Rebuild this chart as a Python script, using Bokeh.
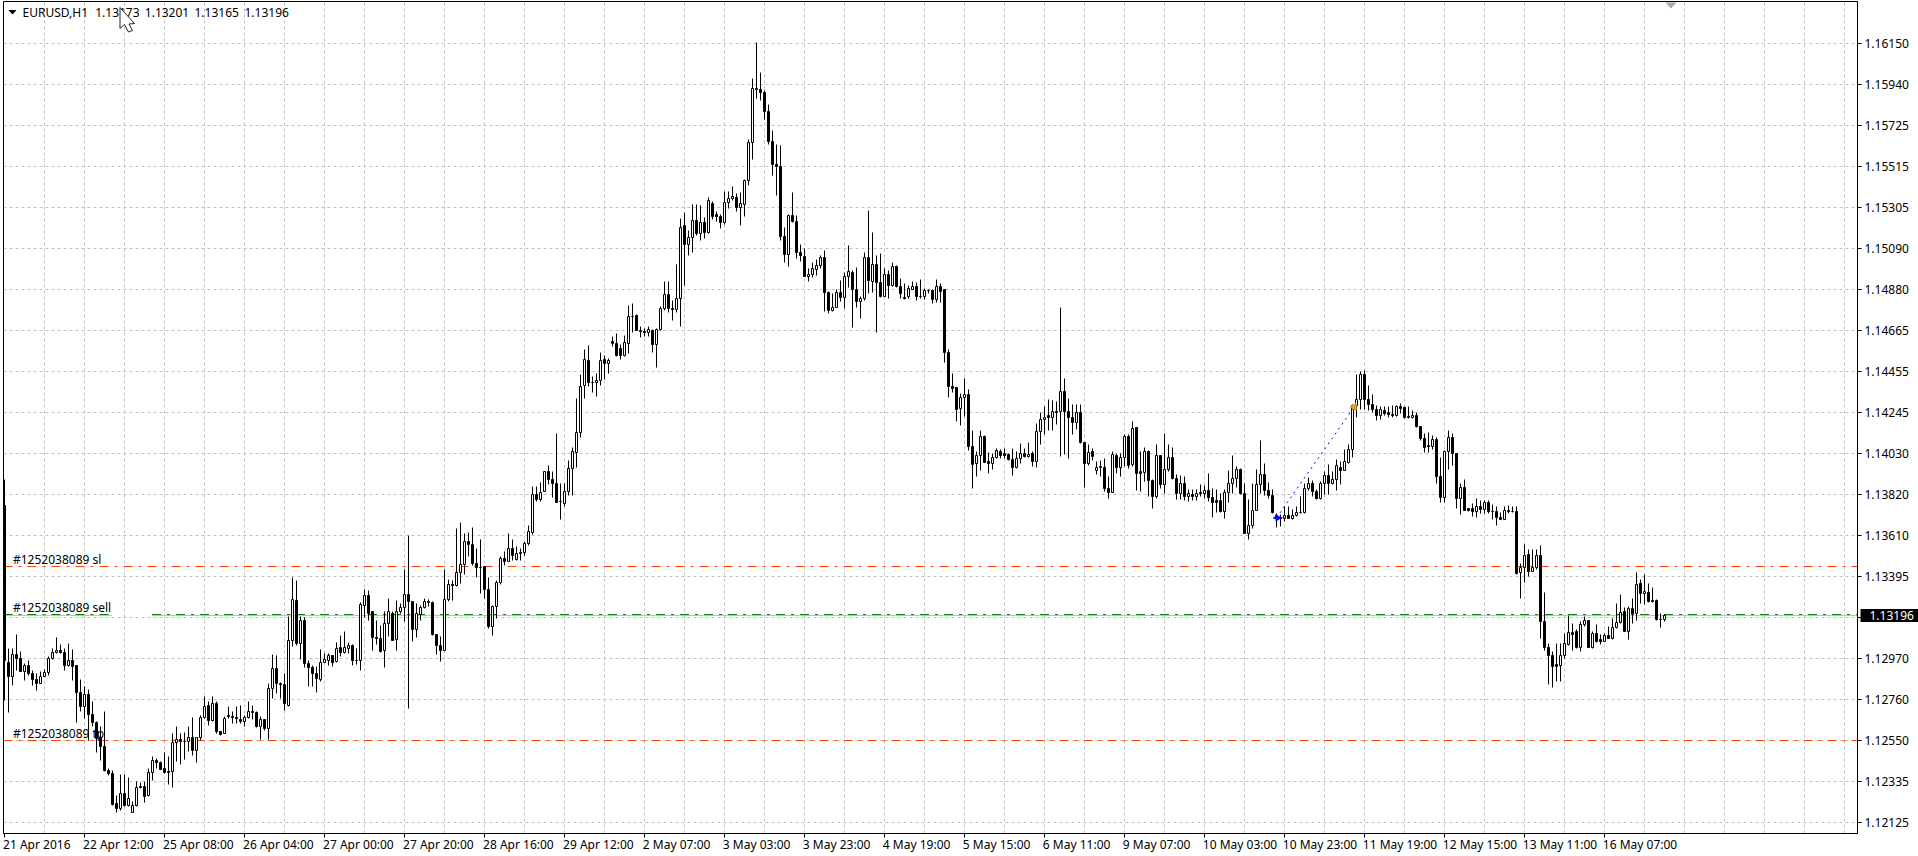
from bokeh.plotting import figure
from bokeh.embed import file_html
from bokeh.resources import INLINE
from bokeh.models import (ColumnDataSource, FixedTicker, Label, LinearAxis, PolyAnnotation, Range1d)

# Prices in 1e-5 above 1.0 (13196 = 1.13196), one entry per hourly candle
high_pts = [
13899,13024,13024,13096,13010,12946,12964,12912,12895,12903,
12915,12984,13024,13081,13046,13024,13050,13020,12938,12864,
12826,12812,12748,12645,12619,12700,12404,12395,12266,12373,
12373,12357,12232,12335,12330,12335,12404,12464,12456,12438,
12485,12464,12585,12623,12585,12588,12619,12667,12564,12679,
12774,12748,12778,12748,12597,12671,12723,12697,12723,12728,
12679,12748,12728,12697,12671,12657,12843,12993,12990,12846,
12895,13191,13391,13377,13187,13184,12964,12938,12929,13019,
12998,12998,12990,13055,13093,13110,13057,13046,13024,13260,
13329,13325,13215,13170,13144,13213,13282,13213,13274,13256,
13434,13609,13268,13256,13248,13282,13277,13267,13098,13084,
13434,13380,13377,13644,13675,13618,13621,13648,13540,13586,
13448,13393,13247,13376,13497,13526,13617,13588,13550,13541,
13576,13662,13863,13863,13884,13941,13972,13941,14135,13877,
13874,13994,14063,14316,14442,14571,14590,14428,14445,14554,
14540,14523,14638,14652,14597,14643,14798,14807,14750,14687,
14678,14687,14673,14678,14790,14922,14922,14824,15010,15246,
15277,15186,15320,15320,15315,15252,15356,15333,15281,15269,
15385,15385,15411,15373,15378,15445,15652,15967,16153,16000,
15907,15834,15700,15626,15622,15197,15269,15378,15259,15114,
15089,14990,15016,15035,15054,15080,14870,14856,14877,14925,
14968,15106,14977,14992,14842,15068,15287,15173,15054,15063,
14985,14977,15020,15003,14937,14908,14899,14920,14916,14930,
14882,14877,14877,14930,14908,14877,14571,14447,14375,14344,
14418,14361,14149,14042,14149,14125,14039,14034,14056,14054,
14056,14034,14059,14042,14082,14059,14090,14042,14189,14245,
14275,14313,14306,14301,14788,14418,14318,14287,14283,14283,
14090,14077,14056,13991,13994,14004,13913,14042,14034,14034,
14128,14128,14197,14168,14042,14065,14047,13896,14077,14020,
14137,14077,14063,13922,13917,13913,13844,13848,13844,13870,
13867,13927,13849,13844,13827,13848,13942,14020,13965,13956,
13874,13793,13875,13948,14097,13979,13882,13844,13724,13718,
13758,13758,13741,13758,13810,13879,13910,13891,13844,13887,
13939,13973,13939,13999,13991,14051,14077,14283,14438,14454,
14463,14385,14334,14282,14273,14277,14273,14282,14282,14290,
14273,14273,14256,14244,14173,14136,14139,14127,14115,14012,
14049,14148,14136,14032,13877,13898,13748,13774,13800,13791,
13791,13791,13770,13760,13727,13757,13765,13760,13760,13461,
13562,13533,13533,13538,13555,13314,13051,13011,13051,13051,
13102,13192,13154,13123,13163,13188,13171,13111,13149,13094,
13102,13137,13180,13257,13304,13237,13240,13283,13417,13383,
13404,13361,13340,13278,13206,13201]
low_pts = [
12757,12692,12834,12912,12903,12857,12886,12834,12809,12843,
12878,12886,12969,12998,12998,12912,12933,12860,12640,12697,
12662,12550,12619,12485,12447,12387,12370,12215,12175,12189,
12209,12206,12175,12206,12301,12227,12258,12340,12404,12401,
12378,12323,12304,12438,12426,12450,12490,12473,12433,12550,
12662,12628,12645,12585,12576,12585,12662,12636,12636,12636,
12619,12662,12657,12616,12556,12602,12556,12766,12791,12766,
12702,12726,13032,13041,12967,12924,12829,12826,12797,12852,
12950,12938,12933,12950,12984,12998,12998,12938,12943,12909,
13184,13170,13012,13046,13005,12924,13084,13063,13012,13205,
13163,12714,13058,13081,13170,13231,13239,13091,12995,12955,
13012,13265,13274,13345,13360,13406,13497,13454,13393,13307,
13281,13126,13092,13178,13355,13454,13471,13479,13481,13481,
13507,13555,13615,13786,13782,13834,13869,13803,13777,13693,
13757,13817,13817,13960,14115,14316,14380,14349,14325,14385,
14414,14445,14583,14535,14519,14532,14549,14656,14666,14630,
14638,14635,14552,14475,14669,14773,14759,14717,14759,14687,
14902,15053,15070,15160,15131,15140,15166,15240,15232,15195,
15213,15295,15338,15281,15209,15257,15416,15550,15867,15855,
15757,15628,15467,15364,15132,15020,14999,15226,15040,15025,
14946,14922,14942,14951,14985,14767,14756,14767,14787,14818,
14782,14891,14684,14787,14727,14822,14856,14865,14655,14839,
14844,14830,14896,14891,14830,14825,14830,14877,14822,14834,
14825,14856,14808,14813,14813,14502,14321,14347,14197,14177,
14223,14046,13849,13913,13944,13985,13927,13951,14004,14004,
14008,13994,13918,13953,13982,14011,14013,13965,13960,14080,
14128,14149,14151,14183,14016,14028,14004,14128,14154,14082,
13858,13968,13994,13922,13913,13836,13801,13830,13927,13913,
13965,13956,13965,13839,13836,13887,13810,13746,13801,13853,
13824,13939,13896,13793,13793,13787,13784,13789,13789,13810,
13801,13784,13701,13729,13729,13694,13779,13827,13858,13818,
13617,13586,13646,13736,13827,13815,13801,13724,13650,13655,
13681,13694,13689,13706,13724,13724,13841,13810,13796,13793,
13818,13818,13870,13841,13870,13944,13982,14011,14220,14260,
14260,14256,14242,14204,14208,14230,14216,14216,14222,14239,
14213,14213,14213,14167,14101,14036,14036,14053,13874,13777,
13777,13951,13972,13745,13714,13735,13731,13708,13700,13722,
13722,13719,13688,13659,13688,13693,13722,13726,13404,13280,
13364,13395,13421,13430,13077,13013,12839,12822,12856,12856,
12973,13042,13016,13025,13011,13140,13028,13025,13054,13047,
13059,13077,13068,13128,13154,13111,13068,13151,13168,13257,
13249,13261,13262,13168,13132,13165]
open_pts = [
13761,12950,12878,12993,12972,12903,12936,12895,12864,12843,
12878,12898,12972,13003,13012,13005,12938,12964,12936,12795,
12723,12788,12683,12640,12564,12516,12395,12380,12222,12197,
12275,12211,12177,12211,12312,12309,12263,12383,12447,12437,
12404,12390,12388,12537,12554,12543,12543,12562,12495,12564,
12667,12728,12650,12740,12593,12585,12678,12673,12667,12657,
12645,12667,12698,12693,12619,12657,12611,12817,12921,12843,
12838,12730,13065,13272,13048,13169,12946,12926,12895,12866,
12952,12964,12988,12955,13029,13005,13024,13039,12960,12960,
13244,13299,13215,13081,13075,13012,13153,13205,13070,13213,
13236,13303,13265,13122,13200,13236,13267,13263,13094,13041,
13015,13277,13354,13349,13415,13458,13576,13559,13462,13445,
13448,13331,13140,13240,13364,13488,13476,13540,13485,13516,
13519,13567,13622,13820,13792,13834,13941,13898,13877,13784,
13774,13836,13955,14036,14141,14381,14513,14399,14396,14409,
14518,14495,14611,14599,14575,14537,14601,14740,14743,14666,
14661,14656,14668,14595,14673,14781,14854,14781,14774,14833,
15210,15112,15148,15236,15169,15225,15172,15323,15266,15254,
15223,15331,15347,15352,15304,15316,15440,15636,15920,15912,
15898,15800,15645,15526,15516,15154,15061,15259,15232,15068,
15052,14947,14959,14980,15001,15042,14865,14773,14787,14866,
14839,14946,14967,14880,14818,14835,15042,14922,15006,14913,
14844,14959,14901,14996,14896,14837,14842,14880,14897,14844,
14844,14873,14873,14829,14897,14877,14554,14378,14371,14263,
14319,14338,14068,13980,14023,14118,13989,13980,14013,14044,
14030,14028,13999,13960,14008,14034,14018,14030,13991,14147,
14209,14226,14218,14251,14247,14354,14251,14218,14192,14245,
14090,13980,14044,13944,13961,13961,13849,13830,14023,13960,
14013,14118,13973,14166,13937,13934,14044,13894,13810,14020,
13873,13951,14013,13901,13825,13879,13810,13822,13810,13832,
13827,13842,13805,13787,13787,13732,13832,13879,13904,13948,
13824,13620,13658,13739,13870,13922,13841,13815,13712,13699,
13696,13713,13698,13713,13729,13727,13853,13875,13836,13799,
13875,13920,13879,13896,13961,13944,13985,14054,14278,14309,
14442,14311,14287,14258,14230,14254,14246,14232,14229,14275,
14270,14225,14218,14229,14170,14108,14074,14070,14105,13912,
13803,14041,14113,14032,13798,13857,13746,13748,13731,13758,
13741,13777,13734,13731,13700,13693,13738,13734,13734,13417,
13440,13510,13421,13445,13505,13166,13028,12987,12939,12935,
12990,13047,13108,13114,13028,13149,13170,13028,13102,13068,
13059,13092,13075,13133,13159,13216,13111,13233,13206,13360,
13309,13314,13273,13273,13173,13173]
close_pts = [
12964,12878,12993,12972,12903,12936,12895,12864,12843,12878,
12898,12972,13003,13014,13002,12938,12964,12933,12795,12723,
12788,12683,12640,12559,12516,12392,12378,12220,12197,12275,
12211,12249,12211,12306,12304,12261,12383,12444,12437,12401,
12385,12385,12537,12554,12543,12541,12562,12495,12564,12667,
12723,12650,12740,12593,12581,12662,12673,12667,12661,12645,
12667,12698,12693,12619,12657,12611,12817,12921,12843,12838,
12740,13065,13277,13048,13169,12946,12926,12895,12869,12952,
12967,12988,12952,13024,13003,13029,13041,12960,12963,13253,
13299,13205,13081,13077,13010,13153,13215,13067,13213,13236,
13303,13265,13122,13205,13236,13267,13263,13094,13041,13015,
13277,13354,13349,13415,13458,13575,13559,13462,13445,13441,
13331,13140,13240,13364,13488,13476,13540,13505,13516,13518,
13567,13627,13820,13795,13831,13939,13898,13877,13779,13782,
13836,13955,14041,14141,14378,14518,14399,14396,14409,14513,
14495,14513,14599,14537,14537,14606,14740,14737,14666,14661,
14656,14671,14595,14673,14781,14854,14781,14774,14833,15200,
15112,15148,15236,15169,15225,15172,15337,15257,15257,15223,
15331,15347,15357,15304,15321,15440,15636,15920,15912,15898,
15800,15645,15526,15516,15154,15061,15259,15232,15068,15056,
14947,14959,14985,15001,15042,14865,14773,14787,14866,14839,
14946,14970,14880,14818,14835,15042,14928,15006,14913,14844,
14959,14901,14996,14896,14856,14834,14882,14897,14844,14841,
14873,14875,14829,14892,14870,14554,14378,14366,14257,14319,
14338,14068,13975,14023,14118,13985,13980,14013,14049,14022,
14022,13999,13960,14008,14034,14016,14028,13991,14147,14209,
14220,14218,14251,14244,14354,14251,14218,14192,14245,14090,
13982,14039,14016,13961,13963,13849,13830,14028,13960,14013,
14118,13970,14163,13929,13929,14044,13892,13808,14020,13870,
13951,14013,13901,13825,13879,13810,13827,13810,13827,13825,
13842,13805,13779,13779,13732,13832,13879,13904,13948,13824,
13620,13658,13739,13870,13922,13841,13815,13729,13694,13696,
13713,13698,13712,13729,13727,13853,13879,13836,13799,13875,
13920,13875,13896,13968,13944,13991,14054,14278,14313,14442,
14311,14287,14258,14227,14260,14237,14232,14229,14275,14263,
14216,14218,14229,14170,14108,14061,14067,14105,13912,13803,
14041,14113,14032,13798,13857,13739,13739,13731,13758,13741,
13777,13734,13731,13700,13693,13738,13731,13731,13409,13440,
13505,13421,13445,13505,13166,13028,12987,12930,12930,12990,
13051,13108,13094,13028,13149,13170,13028,13102,13058,13059,
13092,13077,13133,13159,13211,13111,13233,13206,13355,13309,
13319,13266,13266,13175,13172,13196]

x_tick_labels = ["21 Apr 2016","22 Apr 12:00","25 Apr 08:00","26 Apr 04:00","27 Apr 00:00","27 Apr 20:00",
                 "28 Apr 16:00","29 Apr 12:00","2 May 07:00","3 May 03:00","3 May 23:00","4 May 19:00",
                 "5 May 15:00","6 May 11:00","9 May 07:00","10 May 03:00","10 May 23:00","11 May 19:00",
                 "12 May 15:00","13 May 11:00","16 May 07:00"]
y_tick_labels = ["1.16150","1.15940","1.15725","1.15515","1.15305","1.15090","1.14880","1.14665","1.14455","1.14245",
                 "1.14030","1.13820","1.13610","1.13395","","1.12970","1.12760","1.12550","1.12335","1.12125"]

header_texts = ["EURUSD,H1", "1.13173", "1.13201", "1.13165", "1.13196"]
bid_price = 1.13196
sl_price = 1.13447
sell_price = 1.13201
tp_price = 1.12550
sell_gap = (26.9, 36.9)
entry_index, entry_price = 318, 1.13699
exit_index, exit_price = 337.4, 1.14272

W, H = 1918, 856
FL, FT, FR, FB = 3, 1, 1857, 833      # frame edges in page pixels
PX_PER_BAR = 4.0
TOP_TICK, BOT_TICK, N_TICK = 1.16150, 1.12125, 19
P_PER_PX = (TOP_TICK - BOT_TICK) / 779.0
C_Y0, C_X0 = 43, 4                    # drawing coordinate of the first y tick and the first candle
x_start = -(C_X0 - FL) / PX_PER_BAR
x_end = x_start + (FR - FL) / PX_PER_BAR
y_end = TOP_TICK + (C_Y0 - FT) * P_PER_PX
y_start = TOP_TICK - (FB - C_Y0) * P_PER_PX

def snap(v):
    """Keep a price on a whole row of the 1-pixel price grid of the chart."""
    return TOP_TICK - round((TOP_TICK - v) / P_PER_PX) * P_PER_PX

n = len(close_pts)
idx = list(range(n))
to_price = lambda a: [1 + v / 1e5 for v in a]
highs, lows, opens, closes = map(to_price, (high_pts, low_pts, open_pts, close_pts))
src = ColumnDataSource(dict(
    x=idx, h=[snap(v) for v in highs], l=[snap(v) for v in lows],
    top=[snap(max(a, b)) for a, b in zip(opens, closes)],
    bot=[snap(min(a, b)) for a, b in zip(opens, closes)],
    fill=["white" if c > o else "black" for o, c in zip(opens, closes)],
))

p = figure(width=W, height=H, output_backend="svg", toolbar_location=None,
           x_range=Range1d(x_start, x_end), y_range=Range1d(y_start, y_end),
           x_axis_location="below", y_axis_location="right",
           min_border_left=FL, min_border_right=W - FR, min_border_top=FT, min_border_bottom=H - FB,
           background_fill_color="white", border_fill_color="white",
           outline_line_color="black", outline_line_width=1,
           styles={"position": "absolute", "left": "0", "top": "0"})

FONT = "Noto Sans"
FS = "12px"

# x axes: the first carries the tick marks, the second the texts that start at the ticks
x_ticks = [20 * k for k in range(len(x_tick_labels))]
p.xaxis.ticker = FixedTicker(ticks=x_ticks)
p.xaxis.major_label_overrides = {t: "" for t in x_ticks}
p.xaxis.major_label_standoff = 0
p.xaxis.major_tick_out = 4
p.xaxis.major_tick_in = 0
p.xaxis.minor_tick_line_color = None
p.xaxis.axis_line_color = "black"
p.xaxis.major_tick_line_color = "black"

CHAR_W = {" ": 3.12, ":": 3.2, "A": 7.8, "p": 7.4, "r": 5.0, "M": 10.8, "a": 6.7, "y": 6.0}
def text_width(s):
    return sum(CHAR_W.get(c, 6.86) for c in s)
shifted = [t + (text_width(s) / 2 - 1.5) / PX_PER_BAR for t, s in zip(x_ticks, x_tick_labels)]
text_axis = LinearAxis(ticker=FixedTicker(ticks=shifted), major_label_overrides=dict(zip(shifted, x_tick_labels)),
                       major_tick_line_color=None, minor_tick_line_color=None, axis_line_color=None,
                       major_tick_out=0, major_tick_in=0, major_label_standoff=-2,
                       major_label_text_font=FONT, major_label_text_font_size=FS, major_label_text_color="black")
p.add_layout(text_axis, "below")

y_ticks = [TOP_TICK - k * 41 * P_PER_PX for k in range(N_TICK + 1)]
p.yaxis.ticker = FixedTicker(ticks=y_ticks)
p.yaxis.major_label_overrides = dict(zip(y_ticks, y_tick_labels))
p.yaxis.major_tick_out = 4
p.yaxis.major_tick_in = 0
p.yaxis.minor_tick_line_color = None
p.yaxis.axis_line_color = "black"
p.yaxis.major_tick_line_color = "black"
p.yaxis.major_label_standoff = 3
p.yaxis.major_label_text_font = FONT
p.yaxis.major_label_text_font_size = FS
p.yaxis.major_label_text_color = "black"

# current price: a second price axis whose single thick tick is the black box
bid_axis = LinearAxis(ticker=FixedTicker(ticks=[snap(bid_price)]),
                      major_label_overrides={snap(bid_price): "1.13196"},
                      axis_line_color=None, minor_tick_line_color=None,
                      major_tick_line_color="black", major_tick_line_width=13,
                      major_tick_in=51, major_tick_out=7, major_label_standoff=-49,
                      major_label_text_font=FONT, major_label_text_font_size=FS, major_label_text_color="white")
p.add_layout(bid_axis, "right")

# grid
p.xgrid[0].ticker = FixedTicker(ticks=list(range(10, 470, 10)))
p.ygrid[0].ticker = FixedTicker(ticks=y_ticks)
for g in (p.xgrid[0], p.ygrid[0]):
    g.grid_line_color = "#C0C0C0"
    g.grid_line_dash = "3 3"
    g.grid_line_width = 1

def scr_label(x_px, y_px, text, color="black", level="overlay", **kw):
    p.add_layout(Label(x=x_px - FL, y=FB - y_px, x_units="screen", y_units="screen", text=text,
                       text_font=FONT, text_font_size=FS, text_color=color, text_align="left",
                       text_baseline="middle", level=level, **kw))

def poly(pts, fill, line=None):
    p.add_layout(PolyAnnotation(xs=[a - FL for a, _ in pts], ys=[FB - b for _, b in pts],
                                xs_units="screen", ys_units="screen", line_alpha=1,
                                fill_color=fill, fill_alpha=1, line_color=line, level="overlay"))

# order labels (under the candles)
scr_label(12.5, 559, "#1252038089 sl", level="underlay")
scr_label(12.5, 607, "#1252038089 sell", level="underlay")
scr_label(12.5, 733, "#1252038089 tp", level="underlay")

# order / bid lines
bid_y, sell_y, sl_y, tp_y = snap(bid_price), snap(sell_price), snap(sl_price), snap(tp_price)
p.multi_line([[x_start, sell_gap[0]], [sell_gap[1], x_end]], [[bid_y] * 2, [bid_y] * 2],
             line_color="#C0C0C0", line_width=1)
p.multi_line([[x_start, sell_gap[0]], [sell_gap[1], x_end]], [[sell_y] * 2, [sell_y] * 2],
             line_color="#008000", line_width=1, line_dash="9 6 3 6")
p.line([x_start, x_end], [sl_y, sl_y], line_color="#FF4500", line_width=1, line_dash="9 6 3 6")
p.line([x_start, x_end], [tp_y, tp_y], line_color="#FF4500", line_width=1, line_dash="9 6 3 6")

# candles
p.segment(x0="x", x1="x", y0="l", y1="h", source=src, line_color="black", line_width=1)
p.vbar(x="x", width=0.5, top="top", bottom="bot", source=src, fill_color="fill", line_color="black", line_width=1)

# closed trade
p.line([entry_index, exit_index], [entry_price, exit_price], line_color="#0000FF", line_width=1, line_dash="2 4")
p.line([entry_index + 0.5, entry_index + 2.2], [entry_price, entry_price], line_color="#FF0000", line_width=1)
p.line([entry_index - 0.8, entry_index + 0.4], [entry_price, entry_price], line_color="#0000FF", line_width=2)
p.scatter([entry_index + 0.3], [entry_price], marker="triangle", angle=-1.5708, size=6, color="#0000FF")
p.scatter([exit_index], [exit_price], marker="triangle", angle=1.5708, size=7, color="#DAA520")

# header
for tx, txt in zip([22, 94.7, 144.3, 194, 244], header_texts):
    scr_label(tx, 11.5, txt)

poly([(8, 9.5), (16, 9.5), (12, 14)], "black")
poly([(1665, 2), (1676, 2), (1670.5, 8)], "#A8A8A8")
poly([(119.5, 7), (119.5, 28), (124, 24), (128, 31.5), (132, 30), (128.5, 23.5), (134, 23)], "white", "#222222")

open("out.html", "w").write(file_html(p, INLINE))
